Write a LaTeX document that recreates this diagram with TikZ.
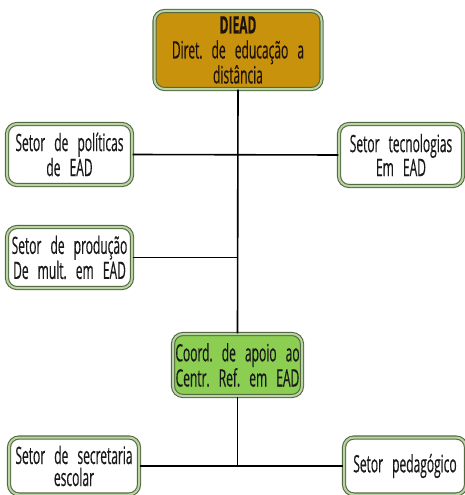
\documentclass[tikz,border=0pt]{standalone}
\usepackage{fontspec}
\setmainfont{Open Sans}[FakeStretch=0.5,FakeBold=0.4]
\definecolor{bordc}{RGB}{85,105,65}
\definecolor{bordin}{RGB}{185,212,165}
\definecolor{goldf}{RGB}{201,146,12}
\definecolor{greenf}{RGB}{140,206,82}
\definecolor{txt}{RGB}{25,25,25}
\newcommand{\boxfontA}{\fontsize{24}{22}\selectfont\spaceskip=0.38em\relax}
\newcommand{\boxfontB}{\fontsize{24}{25}\selectfont\spaceskip=0.38em\relax}
\tikzset{
  box/.style={draw=bordc, line width=1.1pt, double=bordin, double distance=2pt,
    rounded corners=10pt, fill=white, align=center, inner sep=0pt,
    font=\boxfontA, text=txt},
  conn/.style={line width=1.6pt, black}
}
\begin{document}
\begin{tikzpicture}[x=1pt,y=-1pt]
\useasboundingbox (0,0) rectangle (465,495);
\node[box, fill=goldf, minimum width=167pt, minimum height=78pt, text=black!85!brown,
  font=\boxfontB] (diead) at (238,50)
  {{\bfseries DIEAD}\\Diret.\ de educação a\\distância};
\node[box, minimum width=125pt, minimum height=61pt] (pol) at (69.5,154.5) {Setor de políticas\\de EAD};
\node[box, minimum width=124pt, minimum height=62pt] (tec) at (401,155) {Setor tecnologias\\Em EAD};
\node[box, minimum width=125pt, minimum height=61pt] (prod) at (69.5,257.5) {Setor de produção\\De mult.\ em EAD};
\node[box, fill=greenf, minimum width=129pt, minimum height=62pt] (coord) at (237.5,365) {Coord.\ de apoio ao\\Centr.\ Ref.\ em EAD};
\node[box, minimum width=130pt, minimum height=57pt] (sec) at (74,466) {Setor de secretaria\\escolar};
\node[box, minimum width=122pt, minimum height=57pt] (ped) at (405,466) {Setor pedagógico};
\coordinate (jp) at (prod.east -| diead.south);
\coordinate (jb) at (coord.south |- sec.east);
\draw[conn] (diead.south) -- (coord.north);
\draw[conn] (pol.east) -- (tec.west);
\draw[conn] (prod.east) -- (jp);
\draw[conn] (coord.south) -- (jb);
\draw[conn] (sec.east) -- (ped.west);
\end{tikzpicture}
\end{document}
